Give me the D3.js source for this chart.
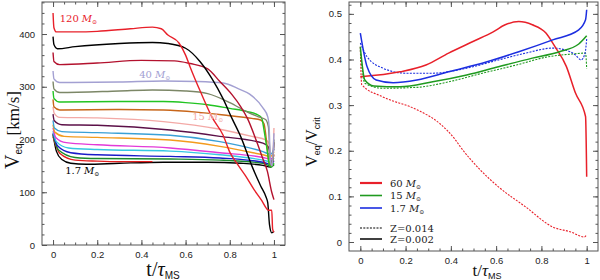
<!DOCTYPE html>
<html>
<head>
<meta charset="utf-8">
<script src="https://cdn.jsdelivr.net/npm/d3@7"></script>
<style>
	body { margin: 0; background: #fff; }
	svg { display: block; }
	.tk text { font-family: "Liberation Sans", Arial, sans-serif; font-size: 9.5px; fill: #222; }
	.tk line { stroke: #555; }
	.tk path { display: none; }
	.lab { font-family: "DejaVu Serif", serif; font-size: 10px; }
	.ttl { font-family: "Liberation Serif", "DejaVu Serif", serif; fill: #111; }
</style>
</head>
<body>
<svg id="chart" width="600" height="280"></svg>
<script>
// ---- left panel : Veq [km/s] versus t/tauMS, one track per initial mass ----
var m120 = [[0,440],[0.004,412],[0.015,404],[0.1,404],[0.2,405],[0.35,410],[0.45,413],[0.49,410],[0.52,398],[0.57,383],[0.6,360],[0.62,338],[0.67,288],[0.72,242],[0.77,208],[0.8,176],[0.83,156],[0.87,132],[0.91,105],[0.945,84],[0.965,70],[0.975,66],[0.99,66],[0.994,30],[1.0,24]];
var m85  = [[0,395],[0.004,380],[0.02,372],[0.1,376],[0.3,382],[0.45,384],[0.52,382],[0.6,373],[0.665,348],[0.72,315],[0.77,277],[0.81,240],[0.85,205],[0.9,150],[0.94,112],[0.965,90],[0.972,80],[0.98,38],[0.99,23],[1.0,26]];
var m60  = [[0,365],[0.004,348],[0.03,342],[0.2,345],[0.4,350],[0.55,349],[0.62,344],[0.7,334],[0.755,310],[0.81,285],[0.85,262],[0.88,240],[0.92,198],[0.95,163],[0.97,140],[0.99,100],[1.0,86]];
var m40  = [[0,330],[0.004,315],[0.03,308],[0.3,309],[0.5,311],[0.65,310],[0.77,307],[0.84,296],[0.89,286],[0.95,260],[0.972,243],[0.978,225],[0.984,160],[0.992,150],[1.0,212]];
var m32  = [[0,310],[0.004,296],[0.03,289],[0.3,292],[0.45,294],[0.6,292],[0.7,287],[0.8,270],[0.88,252],[0.93,243],[0.962,238],[0.975,224],[0.984,158],[0.992,150],[1.0,200]];
var m25  = [[0,292],[0.004,278],[0.03,271],[0.3,272],[0.5,272],[0.6,270],[0.7,266],[0.8,259],[0.88,253],[0.93,246],[0.945,240],[0.955,218],[0.97,178],[0.98,151],[0.99,148],[1.0,155]];
var m20  = [[0,276],[0.004,262],[0.03,256],[0.3,257],[0.5,256],[0.65,252],[0.8,245],[0.9,240],[0.94,237],[0.955,230],[0.965,202],[0.975,162],[0.985,150],[1.0,172]];
var m15  = [[0,262],[0.005,250],[0.03,242],[0.2,241],[0.5,234],[0.75,220],[0.9,206],[0.965,199],[0.978,192],[0.986,155],[0.993,150],[1.0,222]];
var m12  = [[0,248],[0.005,236],[0.04,228],[0.2,227],[0.53,218],[0.755,206],[0.95,193],[0.975,186],[0.985,162],[0.992,150],[1.0,195]];
var m9   = [[0,236],[0.006,222],[0.04,215],[0.2,213],[0.53,208],[0.755,196],[0.95,177],[0.985,172],[1.0,182]];
var m7   = [[0,228],[0.008,214],[0.05,206],[0.2,204],[0.53,199],[0.755,187],[0.95,171],[0.985,168],[1.0,176]];
var m5   = [[0,222],[0.012,204],[0.06,194],[0.2,190],[0.53,184],[0.755,175],[0.95,166],[0.985,163],[1.0,170]];
var m4   = [[0,216],[0.015,196],[0.07,184],[0.2,181],[0.53,178],[0.755,171],[0.95,161],[0.985,158],[1.0,165]];
var m3   = [[0,212],[0.02,188],[0.08,175],[0.2,171],[0.53,168],[0.755,165],[0.95,157],[0.985,153],[1.0,160]];
var m25b = [[0,208],[0.025,180],[0.1,166],[0.2,164],[0.53,163],[0.755,161],[0.95,155],[0.985,150],[1.0,154]];
var m2   = [[0,205],[0.03,174],[0.1,161],[0.2,159],[0.3,158],[0.45,158]];
var m17  = [[0,210],[0.015,178],[0.04,162],[0.08,155],[0.15,153],[0.3,155],[0.5,157],[0.7,157],[0.85,155],[0.95,151],[0.985,148],[1.0,152]];

var leftSeries = [
	{ d: m120, c: "#e8202a" }, { d: m85,  c: "#000000" }, { d: m60,  c: "#b3122e" },
	{ d: m40,  c: "#a3a0d2" }, { d: m32,  c: "#7c8767" }, { d: m25,  c: "#22c422" },
	{ d: m20,  c: "#c8661a" }, { d: m15,  c: "#f3a9a6" }, { d: m12,  c: "#5c1048" },
	{ d: m9,   c: "#3aa0d6" }, { d: m7,   c: "#f39b1e" }, { d: m5,   c: "#e33ad8" },
	{ d: m4,   c: "#36c8e2" }, { d: m3,   c: "#1a1ac8" }, { d: m25b, c: "#1b8a2c" },
	{ d: m2,   c: "#e21e1e" }, { d: m17,  c: "#000000" }
];
var leftLabels = [
	{ t: 0.03, v: 423, txt: "120", c: "#e8202a" },
	{ t: 0.39, v: 316, txt: "40",  c: "#a3a0d2" },
	{ t: 0.63, v: 237, txt: "15",  c: "#f3a9a6" },
	{ t: 0.055, v: 134, txt: "1.7", c: "#000000" }
];
var xTicks = [0, 0.2, 0.4, 0.6, 0.8, 1];
var yTicksL = [0, 100, 200, 300, 400];

// ---- right panel : Veq/Vcrit versus t/tauMS ----
var r60s  = [[0,0.362],[0.175,0.373],[0.29,0.388],[0.39,0.414],[0.5,0.44],[0.585,0.46],[0.64,0.476],[0.7,0.483],[0.76,0.476],[0.82,0.458],[0.86,0.428],[0.91,0.385],[0.95,0.327],[0.995,0.275],[1.0,0.143]];
var r60d  = [[0,0.428],[0.006,0.345],[0.1,0.318],[0.25,0.29],[0.35,0.26],[0.42,0.224],[0.44,0.21],[0.53,0.158],[0.61,0.121],[0.73,0.077],[0.85,0.033],[0.93,0.022],[0.99,0.011],[1.0,0.016]];
var r15s  = [[0,0.428],[0.02,0.355],[0.06,0.342],[0.175,0.34],[0.32,0.351],[0.47,0.366],[0.61,0.384],[0.76,0.403],[0.88,0.417],[0.965,0.434],[1.0,0.452]];
var r15d  = [[0,0.42],[0.02,0.348],[0.1,0.337],[0.25,0.339],[0.39,0.351],[0.54,0.37],[0.69,0.388],[0.83,0.406],[0.935,0.412],[0.995,0.414],[1.0,0.38]];
var r17s  = [[0,0.458],[0.03,0.384],[0.07,0.355],[0.145,0.349],[0.25,0.355],[0.39,0.373],[0.56,0.395],[0.7,0.417],[0.85,0.443],[0.965,0.465],[0.995,0.487],[1.0,0.509]];
var r17d  = [[0,0.436],[0.03,0.406],[0.1,0.381],[0.2,0.37],[0.32,0.37],[0.47,0.381],[0.61,0.399],[0.73,0.414],[0.85,0.425],[0.905,0.421],[0.95,0.41],[0.975,0.399],[0.993,0.414],[1.0,0.445]];

var rightSeries = [
	{ d: r60d, c: "#e8202a", dash: true  }, { d: r15d, c: "#1f9a1f", dash: true  },
	{ d: r17d, c: "#1c2ee0", dash: true  }, { d: r60s, c: "#e8202a", dash: false },
	{ d: r15s, c: "#1f9a1f", dash: false }, { d: r17s, c: "#1c2ee0", dash: false }
];
var legendMass = [ { txt: "60", c: "#e8202a" }, { txt: "15", c: "#1f9a1f" }, { txt: "1.7", c: "#1c2ee0" } ];
var legendZ = [ { txt: "Z=0.014", dash: true }, { txt: "Z=0.002", dash: false } ];
var yTicksR = [0, 0.1, 0.2, 0.3, 0.4, 0.5];

var svg = d3.select("#chart");

function panel(xr, yr, xdom, ydom, xMinor, yMinor, yTicks, yFmt)
{
	var x = d3.scaleLinear().domain(xdom).range(xr);
	var y = d3.scaleLinear().domain(ydom).range(yr);
	var g = svg.append("g");

	var xm = d3.range(0, 1.0001, xMinor);
	var ym = d3.range(ydom[0] < 0 ? 0 : ydom[0], ydom[1], yMinor);

	// minor ticks on all four sides
	g.append("g").attr("class", "tk").attr("transform", "translate(0," + yr[0] + ")")
		.call(d3.axisBottom(x).tickValues(xm).tickSize(-2.5).tickFormat(""));
	g.append("g").attr("class", "tk").attr("transform", "translate(0," + yr[1] + ")")
		.call(d3.axisTop(x).tickValues(xm).tickSize(-2.5).tickFormat(""));
	g.append("g").attr("class", "tk").attr("transform", "translate(" + xr[0] + ",0)")
		.call(d3.axisLeft(y).tickValues(ym).tickSize(-2.5).tickFormat(""));
	g.append("g").attr("class", "tk").attr("transform", "translate(" + xr[1] + ",0)")
		.call(d3.axisRight(y).tickValues(ym).tickSize(-2.5).tickFormat(""));

	// major ticks with labels
	g.append("g").attr("class", "tk").attr("transform", "translate(0," + yr[0] + ")")
		.call(d3.axisBottom(x).tickValues(xTicks).tickSize(-5).tickPadding(6).tickFormat(function(d) { return d === 0 || d === 1 ? d : d3.format(".1f")(d); }));
	g.append("g").attr("class", "tk").attr("transform", "translate(0," + yr[1] + ")")
		.call(d3.axisTop(x).tickValues(xTicks).tickSize(-5).tickFormat(""));
	g.append("g").attr("class", "tk").attr("transform", "translate(" + xr[0] + ",0)")
		.call(d3.axisLeft(y).tickValues(yTicks).tickSize(-5).tickPadding(7).tickFormat(yFmt));
	g.append("g").attr("class", "tk").attr("transform", "translate(" + xr[1] + ",0)")
		.call(d3.axisRight(y).tickValues(yTicks).tickSize(-5).tickFormat(""));

	g.append("rect")
		.attr("x", xr[0]).attr("y", yr[1])
		.attr("width", xr[1] - xr[0]).attr("height", yr[0] - yr[1])
		.attr("fill", "none").attr("stroke", "#555").attr("stroke-width", 1);

	return { x: x, y: y, g: g };
}

// left panel
var L = panel([42, 285], [245, 2], [-0.05, 1.05], [0, 460.7], 0.05, 20, yTicksL, d3.format("d"));
var lineL = d3.line().x(function(d) { return L.x(d[0]); }).y(function(d) { return L.y(d[1]); }).curve(d3.curveMonotoneX);

L.g.append("g").selectAll("path").data(leftSeries.slice().reverse()).enter().append("path")
	.attr("d", function(s) { return lineL(s.d); })
	.attr("fill", "none")
	.attr("stroke", function(s) { return s.c; })
	.attr("stroke-width", 1.4);

var lab = L.g.append("g").selectAll("text").data(leftLabels).enter().append("text")
	.attr("class", "lab")
	.attr("x", function(d) { return L.x(d.t); })
	.attr("y", function(d) { return L.y(d.v); })
	.attr("fill", function(d) { return d.c; });
lab.append("tspan").text(function(d) { return d.txt; });
lab.append("tspan").attr("dx", 3).attr("font-style", "italic").text("M");
lab.append("tspan").attr("dy", 2).attr("font-size", "6px").text("⊙");

// left titles
svg.append("text").attr("class", "ttl")
	.attr("transform", "translate(19,130) rotate(-90)")
	.attr("text-anchor", "middle")
	.call(function(t) {
		t.append("tspan").attr("font-size", "20px").text("V");
		t.append("tspan").attr("font-size", "10px").attr("font-family", "Liberation Sans, sans-serif").attr("dy", 3).text("eq");
		t.append("tspan").attr("font-size", "17px").attr("dy", -3).attr("dx", 8).text("[km/s]");
	});
svg.append("text").attr("class", "ttl")
	.attr("x", 163).attr("y", 276).attr("text-anchor", "middle")
	.call(function(t) {
		t.append("tspan").attr("font-size", "20px").text("t/");
		t.append("tspan").attr("font-size", "20px").attr("font-style", "italic").text("τ");
		t.append("tspan").attr("font-size", "10px").attr("font-family", "Liberation Sans, sans-serif").attr("dy", 3).text("MS");
	});

// right panel
var R = panel([349, 598], [251, 2], [-0.05, 1.05], [-0.0197, 0.526], 0.05, 0.02, yTicksR, function(d) { return d === 0 ? "0" : d3.format(".1f")(d); });
var lineR = d3.line().x(function(d) { return R.x(d[0]); }).y(function(d) { return R.y(d[1]); }).curve(d3.curveMonotoneX);

R.g.append("g").selectAll("path").data(rightSeries).enter().append("path")
	.attr("d", function(s) { return lineR(s.d); })
	.attr("fill", "none")
	.attr("stroke", function(s) { return s.c; })
	.attr("stroke-width", function(s) { return s.dash ? 1.1 : 1.5; })
	.attr("stroke-dasharray", function(s) { return s.dash ? "2,1.3" : null; });

// legend
var lg = R.g.append("g");
legendMass.forEach(function(m, i)
{
	var yy = 183 + i * 12.5;
	lg.append("line").attr("x1", 360).attr("x2", 382).attr("y1", yy).attr("y2", yy)
		.attr("stroke", m.c).attr("stroke-width", i === 0 ? 2.2 : 1.6);
	var t = lg.append("text").attr("class", "lab").attr("x", 390).attr("y", yy + 3.5).attr("fill", "#222");
	t.append("tspan").text(m.txt);
	t.append("tspan").attr("dx", 3).attr("font-style", "italic").text("M");
	t.append("tspan").attr("dy", 2).attr("font-size", "6px").text("⊙");
});
legendZ.forEach(function(z, i)
{
	var yy = 228 + i * 11;
	lg.append("line").attr("x1", 360).attr("x2", 382).attr("y1", yy).attr("y2", yy)
		.attr("stroke", "#000").attr("stroke-width", z.dash ? 1.1 : 1.5)
		.attr("stroke-dasharray", z.dash ? "2,1.3" : null);
	lg.append("text").attr("class", "lab").attr("x", 390).attr("y", yy + 3.5).attr("fill", "#222").text(z.txt);
});

// right titles
svg.append("text").attr("class", "ttl")
	.attr("transform", "translate(317,142) rotate(-90)")
	.attr("text-anchor", "middle")
	.call(function(t) {
		t.append("tspan").attr("font-size", "16px").text("V");
		t.append("tspan").attr("font-size", "9px").attr("font-family", "Liberation Sans, sans-serif").attr("dy", 3).text("eq");
		t.append("tspan").attr("font-size", "16px").attr("dy", -3).text("/V");
		t.append("tspan").attr("font-size", "9px").attr("font-family", "Liberation Sans, sans-serif").attr("dy", 3).text("crit");
	});
svg.append("text").attr("class", "ttl")
	.attr("x", 487).attr("y", 276).attr("text-anchor", "middle")
	.call(function(t) {
		t.append("tspan").attr("font-size", "17px").text("t/");
		t.append("tspan").attr("font-size", "17px").attr("font-style", "italic").text("τ");
		t.append("tspan").attr("font-size", "9px").attr("font-family", "Liberation Sans, sans-serif").attr("dy", 3).text("MS");
	});
</script>
</body>
</html>
